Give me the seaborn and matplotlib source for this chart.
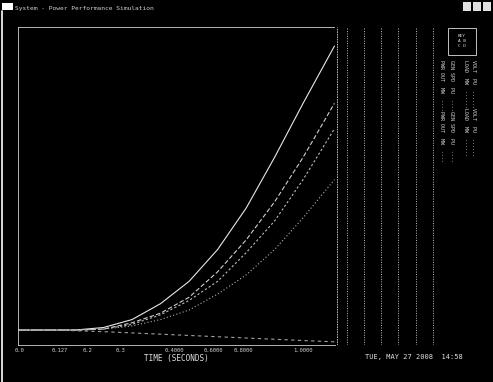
import numpy as np
import pandas as pd
import matplotlib
matplotlib.use("Agg")
import matplotlib.pyplot as plt
import seaborn as sns

# time axis (seconds) and traces
time_s = [0.0, 0.1, 0.2, 0.3, 0.4, 0.5, 0.6, 0.7, 0.8, 0.9, 1.0, 1.11]
trace_a = [0.47, 0.47, 0.47, 0.55, 0.8, 1.3, 2.0, 3.0, 4.3, 5.9, 7.6, 9.4]
trace_b = [0.47, 0.47, 0.47, 0.5, 0.7, 1.0, 1.5, 2.3, 3.3, 4.5, 5.9, 7.6]
trace_c = [0.47, 0.47, 0.47, 0.5, 0.65, 0.95, 1.4, 2.0, 2.9, 3.9, 5.2, 6.8]
trace_d = [0.47, 0.47, 0.47, 0.5, 0.6, 0.8, 1.1, 1.6, 2.2, 3.0, 4.0, 5.2]
trace_e = [0.47, 0.47, 0.45, 0.42, 0.38, 0.34, 0.3, 0.26, 0.22, 0.18, 0.14, 0.1]
trace_names = ["A", "B", "C", "D", "E"]

xtick_vals = [0.007, 0.147, 0.245, 0.358, 0.55, 0.684, 0.79, 1.0]
xtick_text = ["0.0", "0.127", "0.2", "0.3", "0.4000", "0.6000", "0.8000", "1.0000"]
ytick_vals = [0, 1, 2, 3, 4, 5, 6, 7, 8, 9, 10]

title_text = "System - Power Performance Simulation"
date_text = "TUE, MAY 27 2008  14:58"
side_labels = ["PWR OUT  MW  ----", "GEN SPD  PU  ----", "LOAD  MW  ------", "VOLT  PU  ......"]

df = pd.DataFrame({"time": time_s * 5,
                   "value": trace_a + trace_b + trace_c + trace_d + trace_e,
                   "trace": np.repeat(trace_names, len(time_s))})

sns.set_style("dark")
plt.rcParams["font.family"] = ["DejaVu Sans Mono", "DejaVu Sans"]

fig = plt.figure(figsize=(4.93, 3.82), dpi=100, facecolor="black")
ax = fig.add_axes([18 / 493, 1 - 345 / 382, (335 - 18) / 493, (345 - 27) / 382])
ax.set_facecolor("black")

styles = {"A": "", "B": (4, 2), "C": (2, 2), "D": (1, 2), "E": (3, 3)}
sns.lineplot(data=df, x="time", y="value", hue="trace", style="trace",
             palette=["#e8e8e8", "#cfcfcf", "#bdbdbd", "#b0b0b0", "#a0a0a0"],
             dashes=styles, linewidth=0.8,
             legend=False, ax=ax)

ax.set_xlim(0, 1.112)
ax.set_ylim(0, 10)
ax.set_xticks(xtick_vals)
ax.set_xticklabels(xtick_text, fontsize=4, color="#d0d0d0")
ax.set_yticks(ytick_vals)
ax.set_yticklabels([])
ax.tick_params(axis="y", direction="in", length=4, colors="#d0d0d0", width=0.6)
ax.tick_params(axis="x", direction="in", length=3, colors="#d0d0d0", width=0.6, pad=2)
ax.set_xlabel("TIME (SECONDS)", fontsize=5.5, color="#e0e0e0", labelpad=1)
ax.set_ylabel("")
ax.grid(False)
for sp in ax.spines.values():
    sp.set_color("#cfcfcf")
    sp.set_linewidth(0.6)
    sp.set_linestyle((0, (2, 1)))

# right-hand channel strip
rx = fig.add_axes([335 / 493, 1 - 345 / 382, (490 - 335) / 493, (345 - 27) / 382])
rx.set_facecolor("black")
rx.set_xlim(335, 490)
rx.set_ylim(345, 27)
rx.set_xticks([])
rx.set_yticks([])
for sp in rx.spines.values():
    sp.set_visible(False)
for xv in [347, 364, 381, 398, 416, 433]:
    rx.axvline(xv, color="#bdbdbd", lw=0.7, ls=(0, (1, 1.5)))
rx.axvline(337, color="#cfcfcf", lw=0.6, ls=(0, (2, 1)))
for xv, lab in zip([442, 452, 465, 473], side_labels):
    rx.text(xv, 60, lab * 2, rotation=270, fontsize=3.6, color="#d8d8d8",
            va="top", ha="center")
rx.add_patch(plt.Rectangle((448, 28), 28, 27, fill=False, ec="#e0e0e0", lw=0.6))
rx.text(462, 41, "KEY\nA B\nC D", fontsize=3.2, color="#e0e0e0", ha="center", va="center")

# window title bar and footer
fig.text(0.03, 0.985, title_text, fontsize=4.5, color="#d0d0d0", va="top")
fig.patches.append(plt.Rectangle((0.004, 0.975), 0.022, 0.018, transform=fig.transFigure,
                                 fc="white", ec="none"))
for i in range(3):
    fig.patches.append(plt.Rectangle((0.94 + i * 0.02, 0.972), 0.016, 0.022,
                                     transform=fig.transFigure, fc="#e0e0e0", ec="none"))
fig.text(365 / 493, 1 - 357 / 382, date_text, fontsize=5, color="#e0e0e0", va="center")
fig.lines.append(plt.Line2D([0.004, 0.004], [0.0, 0.97], transform=fig.transFigure,
                            color="white", lw=1.2))

fig.savefig("out.png", dpi=100, facecolor="black")
